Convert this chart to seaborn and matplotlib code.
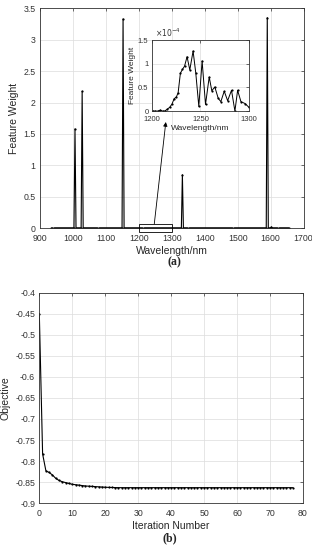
import numpy as np
import pandas as pd
import seaborn as sns
import matplotlib.pyplot as plt
from matplotlib.patches import Rectangle
from matplotlib.ticker import FuncFormatter

# spectrum grid and the few non-zero feature weights
wl_start, wl_end, n_points = 935, 1655, 233
spike_wl = [1005, 1027, 1151, 1332, 1591, 1601]
spike_w = [1.58, 2.18, 3.33, 0.85, 3.35, 0.02]

# zoomed region 1200-1300 nm (values in 1e-4)
zoom_wl = [1200.7, 1203.4, 1206.2, 1208.6, 1211.0, 1213.0, 1215.5, 1218.3,
           1220.7, 1222.8, 1225.2, 1227.0, 1229.3, 1231.4, 1233.6, 1236.2,
           1239.0, 1242.4, 1245.2, 1248.3, 1251.7, 1255.2, 1259.0, 1261.7,
           1264.8, 1268.3, 1271.0, 1274.5, 1278.0, 1282.0, 1285.5, 1288.3,
           1291.7, 1295.9, 1300.0]
zoom_w = [0.0, 0.0, 0.0, 0.02, 0.0, 0.0, 0.035, 0.08,
          0.15, 0.26, 0.30, 0.39, 0.80, 0.88, 0.95, 1.15,
          0.87, 1.27, 0.80, 0.10, 1.06, 0.14, 0.72, 0.43,
          0.51, 0.27, 0.20, 0.42, 0.22, 0.44, 0.0, 0.44,
          0.20, 0.16, 0.08]

# objective per iteration
objective = [-0.450, -0.783, -0.823, -0.827, -0.833, -0.841, -0.846, -0.849,
             -0.851, -0.853, -0.855, -0.856, -0.857, -0.858, -0.859, -0.8595,
             -0.860, -0.8605, -0.861, -0.8615, -0.862, -0.8623, -0.8626, -0.8628,
             -0.863, -0.863, -0.863, -0.863, -0.863, -0.863, -0.863, -0.863,
             -0.863, -0.863, -0.863, -0.863, -0.863, -0.863, -0.863, -0.863,
             -0.863, -0.863, -0.863, -0.863, -0.863, -0.863, -0.863, -0.863,
             -0.863, -0.863, -0.863, -0.863, -0.863, -0.863, -0.863, -0.863,
             -0.863, -0.863, -0.863, -0.863, -0.863, -0.863, -0.863, -0.863,
             -0.863, -0.863, -0.863, -0.863, -0.863, -0.863, -0.863, -0.863,
             -0.863, -0.863, -0.863, -0.863, -0.863, -0.863]

wl = np.linspace(wl_start, wl_end, n_points)
weight = np.zeros(n_points)
for s, v in zip(spike_wl, spike_w):
    weight[np.argmin(np.abs(wl - s))] = v
spec = pd.DataFrame({"wl": wl, "w": weight})
zoom = pd.DataFrame({"wl": zoom_wl, "w": zoom_w})
obj = pd.DataFrame({"it": np.arange(len(objective)), "obj": objective})

sns.set_style("whitegrid")
plt.rcParams["font.family"] = ["Liberation Sans", "DejaVu Sans"]
plt.rcParams["axes.unicode_minus"] = False

fig = plt.figure(figsize=(3.12, 5.5), dpi=100)
ax1 = fig.add_axes([0.128, 0.585, 0.845, 0.40])
ax2 = fig.add_axes([0.126, 0.085, 0.845, 0.383])
axin = fig.add_axes([0.487, 0.798, 0.311, 0.129])

fmt = FuncFormatter(lambda v, p: "%g" % round(v, 4))


def style(ax, fs=6.3):
    ax.grid(True, color="#dcdcdc", linewidth=0.5)
    for sp in ax.spines.values():
        sp.set_color("#333333")
        sp.set_linewidth(0.6)
    ax.tick_params(direction="in", length=2, width=0.5, labelsize=fs,
                   colors="#333333", top=True, right=True)
    ax.tick_params(axis="x", pad=4)
    ax.tick_params(axis="y", pad=3)


# (a) feature weights
sns.lineplot(data=spec, x="wl", y="w", ax=ax1, color="black", linewidth=0.8,
             marker="o", markersize=1.6, markeredgewidth=0)
ax1.set_xlim(900, 1700)
ax1.set_ylim(0, 3.5)
ax1.set_xticks(np.arange(900, 1701, 100))
ax1.set_yticks(np.arange(0, 3.51, 0.5))
ax1.yaxis.set_major_formatter(fmt)
ax1.set_xlabel("Wavelength/nm", fontsize=7.5, labelpad=2)
ax1.set_ylabel("Feature Weight", fontsize=7.5, labelpad=3)
style(ax1)
ax1.add_patch(Rectangle((1200, -0.065), 100, 0.133, fill=False,
                        edgecolor="black", linewidth=0.6, clip_on=False, zorder=5))
ax1.annotate("", xy=(1282, 1.69), xytext=(1247, 0.07),
             arrowprops=dict(arrowstyle="-|>", color="black", lw=0.6,
                             mutation_scale=6, shrinkA=0, shrinkB=0))

# inset (y in units of 1e-4)
sns.lineplot(data=zoom, x="wl", y="w", ax=axin, color="black", linewidth=0.7,
             marker="o", markersize=1.6, markeredgewidth=0)
axin.set_facecolor("white")
axin.set_xlim(1200, 1300)
axin.set_ylim(0, 1.5)
axin.set_xticks([1200, 1250, 1300])
axin.set_yticks([0, 0.5, 1, 1.5])
axin.yaxis.set_major_formatter(fmt)
axin.text(0.03, 1.01, r"$\times10^{-4}$", transform=axin.transAxes,
          fontsize=5.5, color="#333333", ha="left", va="bottom")
axin.set_xlabel("Wavelength/nm", fontsize=6, labelpad=1.5)
axin.set_ylabel("Feature Weight", fontsize=6, labelpad=1)
style(axin, fs=5.5)
axin.tick_params(axis="x", pad=3.5)
axin.tick_params(axis="y", pad=2.5)

# (b) objective
sns.lineplot(data=obj, x="it", y="obj", ax=ax2, color="black", linewidth=0.8,
             marker="o", markersize=1.6, markeredgewidth=0)
ax2.set_xlim(0, 80)
ax2.set_ylim(-0.9, -0.4)
ax2.set_xticks(np.arange(0, 81, 10))
ax2.set_yticks(np.arange(-0.9, -0.399, 0.05))
ax2.yaxis.set_major_formatter(fmt)
ax2.set_xlabel("Iteration Number", fontsize=7.5, labelpad=2)
ax2.set_ylabel("Objective", fontsize=7.5, labelpad=3)
style(ax2)

fig.text(0.56, 0.524, "(a)", ha="center", va="center", fontsize=8.5,
         family="Liberation Serif", fontweight="bold")
fig.text(0.545, 0.022, "(b)", ha="center", va="center", fontsize=8.5,
         family="Liberation Serif", fontweight="bold")

fig.savefig("out.png", dpi=100)
